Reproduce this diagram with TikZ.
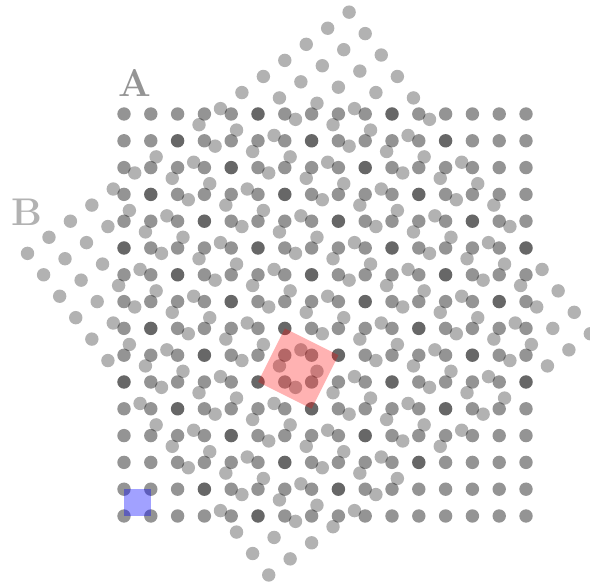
\documentclass[tikz,border=0pt]{standalone}
\begin{document}
\begin{tikzpicture}[x=1cm,y=1cm,
  dotA/.style={fill=black,fill opacity=0.42},
  dotB/.style={fill=black,fill opacity=0.3},
  lbl/.style={font=\fontsize{41}{41}\selectfont\bfseries, inner sep=0pt}]
\useasboundingbox (-4.627,-2.612) rectangle (17.388,19.254);
% lattice A
\foreach \i in {0,...,15} \foreach \j in {0,...,15} \fill[dotA] (\i,\j) circle (0.25);
% lattice B (rotated by atan(3/4))
\foreach \m in {0,...,15} \foreach \n in {0,...,15}
  \fill[dotB] ({5.4+0.8*\m-0.6*\n},{-2.2+0.6*\m+0.8*\n}) circle (0.25);
% coincidence cell and unit cell
\fill[red, fill opacity=0.3] (5,5) -- (6,7) -- (8,6) -- (7,4) -- cycle;
\fill[blue, fill opacity=0.37] (0,0) rectangle (1,1);
\node[lbl, text=black!42] (labelA) at (0.41,16.14) {A};
\node[lbl, text=black!30] (labelB) at (-3.64,11.34) {B};
\end{tikzpicture}
\end{document}
